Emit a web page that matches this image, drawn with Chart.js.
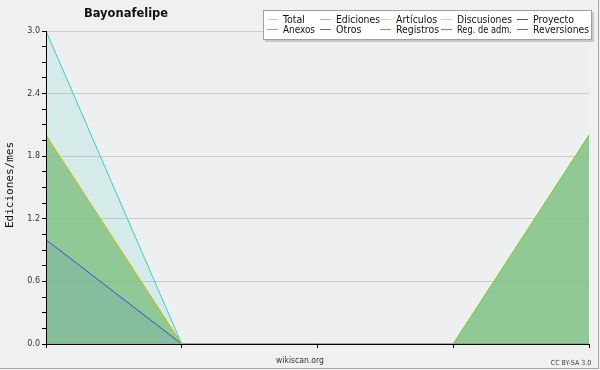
<!DOCTYPE html>
<html><head><meta charset="utf-8">
<script src="https://cdn.jsdelivr.net/npm/chart.js@4"></script>
<style>
html,body{margin:0;padding:0;background:#f0f0f0;}
#wrap{position:relative;width:600px;height:370px;}
canvas{display:block;}
</style></head><body>
<div id="wrap"><canvas id="c" width="600" height="370"></canvas></div>
<script>
const categories = ['2020-01','2020-02','2020-03','2020-04','2020-05'];
const total       = [3, 0, 0, 0, 2];
const ediciones   = [2, 0, 0, 0, 2];
const articulos   = [0, 0, 0, 0, 2];
const discusiones = [2, 0, 0, 0, 0];
const proyecto    = [0, 0, 0, 0, 0];
const anexos      = [0, 0, 0, 0, 0];
const otros       = [0, 0, 0, 0, 0];
const registros   = [1, 0, 0, 0, 0];
const regAdm      = [0, 0, 0, 0, 0];
const reversiones = [0, 0, 0, 0, 0];
const yTicks = [0, 0.6, 1.2, 1.8, 2.4, 3.0];
const titleText = 'Bayonafelipe';
const yTitle = 'Ediciones/mes';

const legendItems = [
  ['Total','#a8e8e4'],['Ediciones','#88cc88'],['Artículos','#c4ec70'],['Discusiones','#f0cc60'],['Proyecto','#555555'],
  ['Anexos','#f08850'],['Otros','#8050c8'],['Registros','#7890e8'],['Reg. de adm.','#c050e0'],['Reversiones','#e03838']
];

function ds(label, data, color, fill, bg, order){
  return {label, data, borderColor: color, backgroundColor: bg || 'transparent', fill: fill ? 'origin' : false,
    borderWidth: 1, pointRadius: 0, tension: 0, order};
}

const datasets = [
  ds('Proyecto', proyecto, '#555555', false, null, 10),
  ds('Anexos', anexos, '#f08040', false, null, 10),
  ds('Otros', otros, '#8040c0', false, null, 10),
  ds('Reg. de adm.', regAdm, '#c040e0', false, null, 10),
  ds('Reversiones', reversiones, '#e03030', false, null, 10),
  ds('Total', total, '#30d0c8', true, 'rgba(64,210,190,0.14)', 9),
  ds('Ediciones', ediciones, '#60b860', true, 'rgba(120,190,120,0.75)', 8),
  ds('Registros', registros, '#3050e8', true, 'rgba(80,120,200,0.15)', 5),
  ds('Artículos', articulos, '#90e020', false, null, 4),
  ds('Discusiones', discusiones, '#e8c000', false, null, 3)
];

const overlay = {
  id: 'overlay',
  beforeDraw(chart){
    const ctx = chart.ctx, a = chart.chartArea;
    ctx.save();
    ctx.fillStyle = '#f0f0f0';
    ctx.fillRect(0, 0, chart.width, chart.height);
    ctx.fillStyle = '#eeeff1';
    ctx.fillRect(a.left, a.top, a.right - a.left, a.bottom - a.top);
    ctx.restore();
  },
  afterDatasetsDraw(chart){
    const ctx = chart.ctx, a = chart.chartArea;
    ctx.save();
    ctx.strokeStyle = '#000'; ctx.lineWidth = 1;
    ctx.beginPath();
    ctx.moveTo(a.left + 0.5, a.top); ctx.lineTo(a.left + 0.5, a.bottom + 0.5);
    ctx.lineTo(a.right, a.bottom + 0.5);
    ctx.stroke();
    ctx.restore();
  },
  afterDraw(chart){
    const ctx = chart.ctx;
    ctx.save();
    ctx.strokeStyle = '#a8a8a8'; ctx.lineWidth = 1;
    ctx.beginPath(); ctx.moveTo(598.5, 0); ctx.lineTo(598.5, 368.5); ctx.lineTo(0, 368.5); ctx.stroke();
    // title
    ctx.fillStyle = '#111';
    ctx.font = 'bold 11.5px "DejaVu Sans"';
    ctx.textAlign = 'center'; ctx.textBaseline = 'middle';
    ctx.fillText(titleText, 126, 14);
    // y title
    ctx.save();
    ctx.translate(10, 185); ctx.rotate(-Math.PI/2);
    ctx.font = '11px "DejaVu Sans Mono"';
    ctx.fillStyle = '#111';
    ctx.fillText(yTitle, 0, 0);
    ctx.restore();
    // footer
    ctx.font = '9px "DejaVu Sans Condensed", "DejaVu Sans"'; ctx.fillStyle = '#333';
    ctx.fillText('wikiscan.org', 300, 361, 48);
    ctx.font = '7px "DejaVu Sans Condensed", "DejaVu Sans"'; ctx.fillStyle = '#444';
    ctx.fillText('CC BY-SA 3.0', 571, 363, 45);
    // legend box
    const lx = 263, ly = 10, lw = 329, lh = 30;
    ctx.fillStyle = '#c8c8c8';
    ctx.fillRect(lx + 2, ly + 2, lw, lh);
    ctx.fillStyle = '#ffffff';
    ctx.fillRect(lx, ly, lw, lh);
    ctx.strokeStyle = '#a0a0a0';
    ctx.strokeRect(lx + 0.5, ly + 0.5, lw - 1, lh - 1);
    const cols = [267, 320, 380, 441, 517];
    const maxW = [32, 44, 43, 55, 56];
    ctx.font = '10.5px "DejaVu Sans Condensed", "DejaVu Sans"'; ctx.textAlign = 'left'; ctx.textBaseline = 'middle';
    legendItems.forEach((it, i) => {
      const col = i % 5, row = Math.floor(i / 5);
      const x = cols[col], y = 19 + row * 10;
      ctx.strokeStyle = it[1]; ctx.lineWidth = 1;
      ctx.beginPath(); ctx.moveTo(x, y + 0.5); ctx.lineTo(x + 11, y + 0.5); ctx.stroke();
      ctx.fillStyle = '#111';
      ctx.fillText(it[0], x + 16, y + 1, maxW[col]);
    });
    ctx.restore();
  }
};

new Chart(document.getElementById('c'), {
  type: 'line',
  data: { labels: categories, datasets },
  options: {
    responsive: false, animation: false,
    layout: { padding: { left: 0, right: 11, top: 31, bottom: 0 } },
    plugins: { legend: { display: false }, tooltip: { enabled: false } },
    scales: {
      x: {
        offset: false,
        grid: { display: true, drawOnChartArea: false, color: '#000', tickColor: '#000', tickLength: 4 },
        border: { display: true, color: '#000' },
        ticks: { callback: () => '', padding: 0 },
        afterFit(s){ s.height = 26; }
      },
      y: {
        min: 0, max: 3,
        afterBuildTicks(s){
          const t = [];
          for (let i = 0; i <= 20; i++) t.push({ value: Math.round(i * 0.15 * 100) / 100 });
          s.ticks = t;
        },
        grid: {
          color: (c) => (yTicks.some(v => Math.abs(v - c.tick.value) < 1e-6) && c.tick.value > 0) ? '#cccccc' : 'rgba(0,0,0,0)',
          tickColor: '#000', tickLength: 4
        },
        border: { display: true, color: '#000' },
        ticks: {
          autoSkip: false,
          color: '#333', font: { family: 'DejaVu Sans', size: 8 }, padding: 2,
          callback: (v) => yTicks.some(t => Math.abs(t - v) < 1e-6) ? Number(v).toFixed(1) : ''
        },
        afterFit(s){ s.width = 46; }
      }
    }
  },
  plugins: [overlay]
});
</script>
</body></html>
